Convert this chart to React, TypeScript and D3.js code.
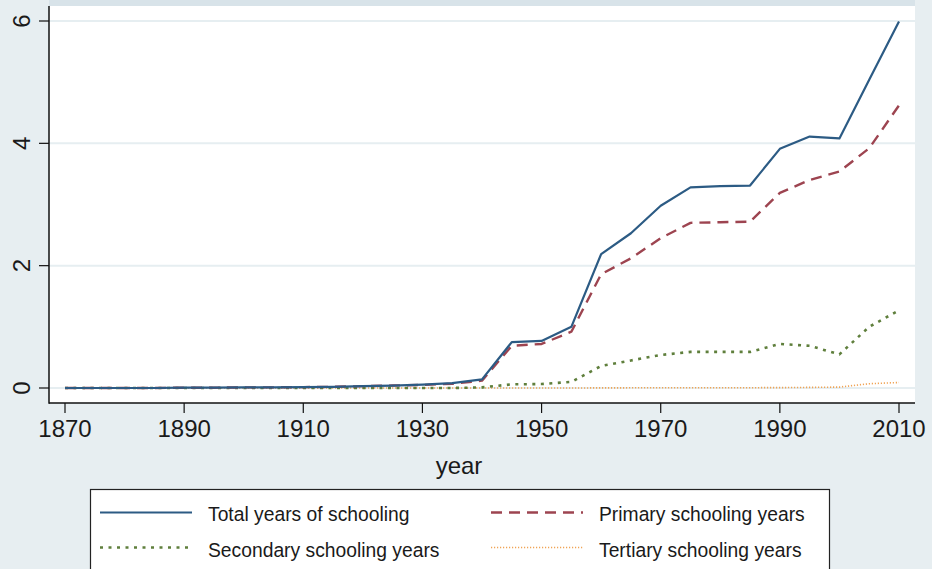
import React from "react";
import * as d3 from "d3";

const years = [1870,1875,1880,1885,1890,1895,1900,1905,1910,1915,1920,1925,1930,1935,1940,1945,1950,1955,1960,1965,1970,1975,1980,1985,1990,1995,2000,2005,2010];
const totalYears = [0,0,0,0,0.005,0.005,0.01,0.01,0.015,0.02,0.03,0.04,0.055,0.08,0.14,0.75,0.77,1.0,2.19,2.53,2.98,3.28,3.3,3.31,3.91,4.11,4.08,5.04,5.99];
const primaryYears = [0,0,0,0,0.005,0.005,0.01,0.01,0.015,0.02,0.03,0.04,0.05,0.07,0.12,0.69,0.72,0.92,1.86,2.12,2.45,2.7,2.71,2.72,3.19,3.4,3.54,3.92,4.62];
const secondaryYears = [0,0,0,0,0,0,0,0,0,0,0,0,0,0,0.01,0.06,0.065,0.1,0.36,0.45,0.54,0.59,0.59,0.59,0.72,0.69,0.55,1.0,1.27];
const tertiaryYears = [0,0,0,0,0,0,0,0,0,0,0,0,0,0,0,0,0,0,0.002,0.003,0.004,0.004,0.005,0.005,0.006,0.01,0.015,0.07,0.09];

const xTicks = [1870,1890,1910,1930,1950,1970,1990,2010];
const yTicks = [0,2,4,6];

const seriesNames = ["Total years of schooling","Primary schooling years","Secondary schooling years","Tertiary schooling years"];

const W = 932, H = 569;
const plotL = 49, plotR = 915, plotT = 6, plotB = 403;

const FONT = "'Liberation Sans', Arial, Helvetica, sans-serif";

export default function App() {
  const x = d3.scaleLinear().domain([1870, 2010]).range([65, 899]);
  const y = d3.scaleLinear().domain([0, 6]).range([388, 21]);

  const styles = [
    { color: "#2c5b84", width: 2.2, dash: "" },
    { color: "#9d4450", width: 2.4, dash: "11,7" },
    { color: "#5f7f3c", width: 2.6, dash: "3,5.5" },
    { color: "#f0a456", width: 1.6, dash: "1.2,1.8" },
  ];
  const data = [totalYears, primaryYears, secondaryYears, tertiaryYears];

  const line = d3.line<number>()
    .x((_, i) => x(years[i]))
    .y((d) => y(d));

  const legendPos = [
    { lx: 100, ly: 512.5, tx: 208, ty: 521 },
    { lx: 491, ly: 512.5, tx: 599, ty: 521 },
    { lx: 100, ly: 547.5, tx: 208, ty: 556.5 },
    { lx: 491, ly: 547.5, tx: 599, ty: 556.5 },
  ];

  return (
    <svg width={W} height={H} style={{ position: "absolute", left: 0, top: 0 }} fontFamily={FONT}>
      <rect x={0} y={0} width={W} height={H} fill="#e7eef1" />
      <rect x={plotL} y={0} width={plotR - plotL} height={plotT} fill="#d8e3e9" />
      <rect x={plotL} y={plotT} width={plotR - plotL} height={plotB - plotT} fill="#ffffff" />
      {yTicks.map((t) => (
        <line key={"g" + t} x1={plotL} x2={plotR} y1={y(t)} y2={y(t)} stroke="#e6eef1" strokeWidth={2} />
      ))}
      {data.slice().reverse().map((d, ri) => {
        const i = data.length - 1 - ri;
        return (
          <path key={"s" + i} d={line(d) || ""} fill="none" stroke={styles[i].color}
            strokeWidth={styles[i].width} strokeDasharray={styles[i].dash || undefined}
            strokeLinejoin="round" />
        );
      })}
      <line x1={plotL} x2={plotL} y1={plotT} y2={plotB + 0.75} stroke="#111" strokeWidth={1.5} />
      <line x1={plotL} x2={plotR} y1={plotB} y2={plotB} stroke="#111" strokeWidth={1.5} />
      {xTicks.map((t) => (
        <g key={"x" + t}>
          <line x1={x(t)} x2={x(t)} y1={plotB} y2={plotB + 10} stroke="#111" strokeWidth={1.2} />
          <text x={x(t)} y={437} textAnchor="middle" fontSize={24} fill="#1a1a1a">{t}</text>
        </g>
      ))}
      {yTicks.map((t) => (
        <g key={"y" + t}>
          <line x1={plotL - 10} x2={plotL} y1={y(t)} y2={y(t)} stroke="#111" strokeWidth={1.2} />
          <text transform={`translate(29.5,${y(t)}) rotate(-90)`} textAnchor="middle" fontSize={24} fill="#1a1a1a">{t}</text>
        </g>
      ))}
      <text x={459} y={474} textAnchor="middle" fontSize={24} fill="#1a1a1a">year</text>
      <rect x={90.5} y={489.5} width={739} height={100} fill="#ffffff" stroke="#222" strokeWidth={1.2} />
      {seriesNames.map((name, i) => (
        <g key={"l" + i}>
          <line x1={legendPos[i].lx} x2={legendPos[i].lx + 92} y1={legendPos[i].ly} y2={legendPos[i].ly}
            stroke={styles[i].color} strokeWidth={styles[i].width} strokeDasharray={styles[i].dash || undefined} />
          <text x={legendPos[i].tx} y={legendPos[i].ty} fontSize={19.3} fill="#1a1a1a">{name}</text>
        </g>
      ))}
    </svg>
  );
}
